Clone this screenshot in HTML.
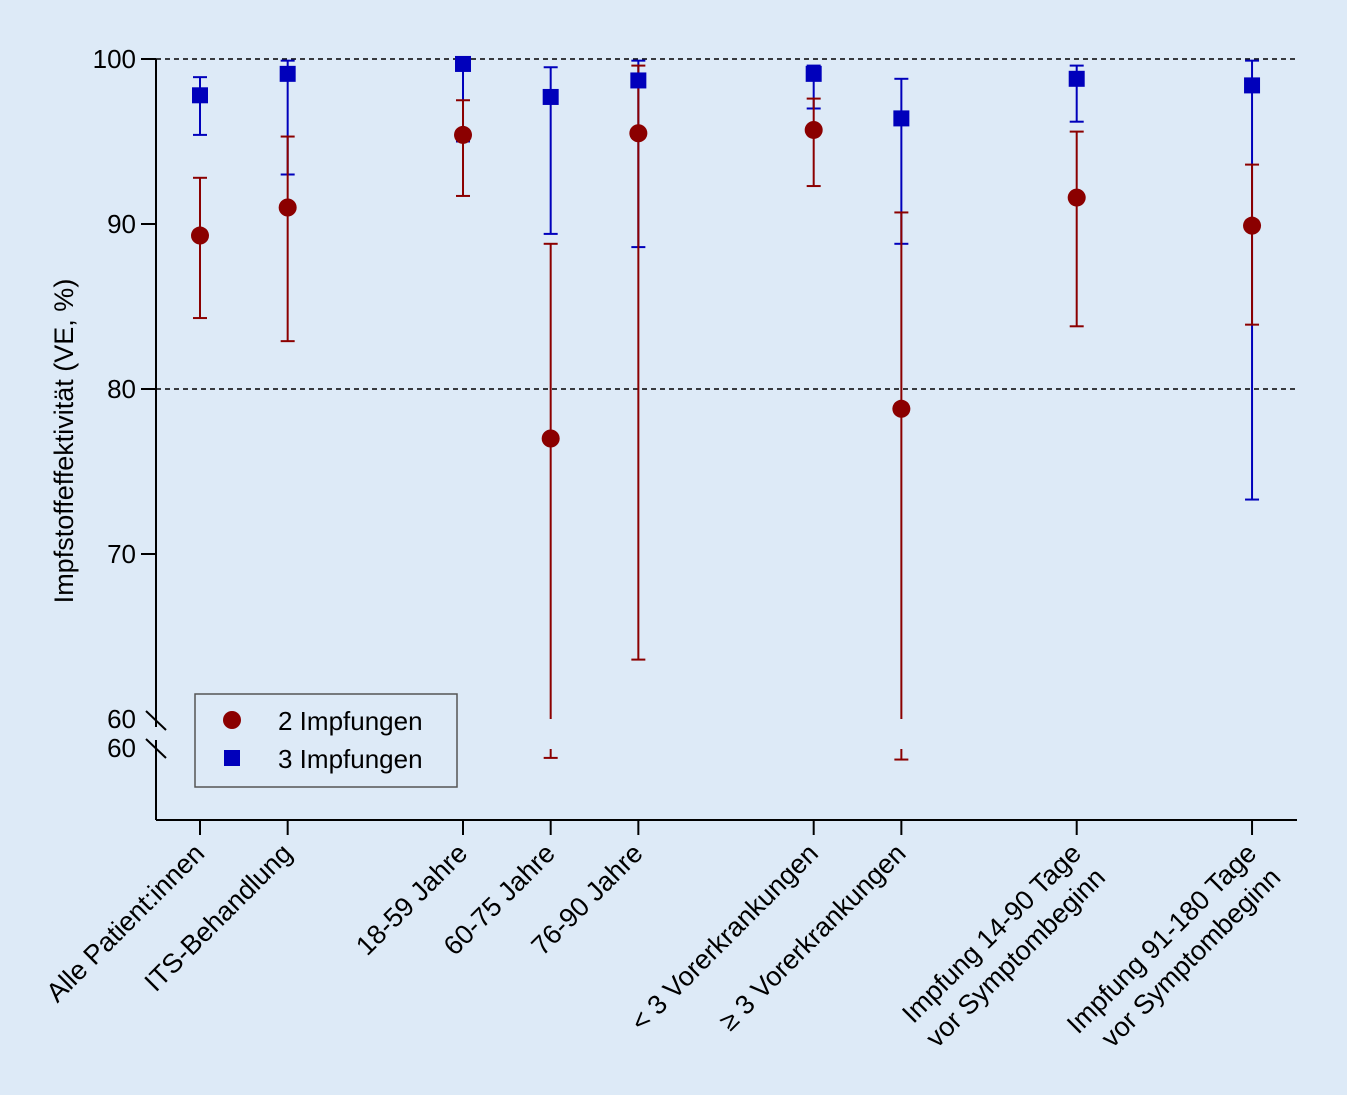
<!DOCTYPE html>
<html><head><meta charset="utf-8"><style>
html,body{margin:0;padding:0;background:#ddeaf7;}
svg{display:block;font-family:"Liberation Sans",sans-serif;}
</style></head><body>
<svg id="chart" width="1347" height="1095" xmlns="http://www.w3.org/2000/svg">
<rect width="1347" height="1095" fill="#ddeaf7"/>
<g id="grid"></g>
<g id="axes"></g>
<g id="marks"></g>
<g id="xlabels"></g>
<text transform="translate(73,441) rotate(-90)" text-anchor="middle" font-size="27" fill="#000">Impfstoffeffektivität (VE, %)</text>
<g>
<rect x="195" y="694" width="262" height="93" fill="none" stroke="#555" stroke-width="1.5"/>
<circle cx="232" cy="720" r="9" fill="#8b0000"/>
<text x="278" y="730" font-size="26">2 Impfungen</text>
<rect x="224" y="750" width="16" height="16" fill="#0000bb"/>
<text x="278" y="768" font-size="26">3 Impfungen</text>
</g>
</svg>
<script>
const categories = [["Alle Patient:innen"],["ITS-Behandlung"],["18-59 Jahre"],["60-75 Jahre"],["76-90 Jahre"],["< 3 Vorerkrankungen"],["≥ 3 Vorerkrankungen"],["Impfung 14-90 Tage","vor Symptombeginn"],["Impfung 91-180 Tage","vor Symptombeginn"]];
const slots = [0,1,3,4,5,7,8,10,12];
const ve2 = [89.3,91.0,95.4,77.0,95.5,95.7,78.8,91.6,89.9];
const lo2 = [84.3,82.9,91.7,59.4,63.6,92.3,59.3,83.8,83.9];
const hi2 = [92.8,95.3,97.5,88.8,99.6,97.6,90.7,95.6,93.6];
const ve3 = [97.8,99.1,99.7,97.7,98.7,99.1,96.4,98.8,98.4];
const lo3 = [95.4,93.0,95.0,89.4,88.6,97.0,88.8,96.2,73.3];
const hi3 = [98.9,99.9,99.9,99.5,99.9,99.6,98.8,99.6,99.9];
const yTicks = [100,90,80,70];
const dashed = [100,80];

const NS="http://www.w3.org/2000/svg";
function el(tag,attrs,parent){const e=document.createElementNS(NS,tag);for(const k in attrs)e.setAttribute(k,attrs[k]);parent.appendChild(e);return e;}
function y(v){ if(v>=60) return 59+(100-v)*16.5; return 748+(60-v)*16.5; }
function x(i){ return 200+slots[i]*87.67; }
const L=156,R=1297,B=820;
const grid=document.getElementById('grid'),axes=document.getElementById('axes'),marks=document.getElementById('marks'),xl=document.getElementById('xlabels');
dashed.forEach(v=>{const l=el('line',{x1:L,x2:R,y1:y(v),y2:y(v),stroke:'#000','stroke-width':1.5,'stroke-dasharray':'5,4'},grid);

});
let a=el('line',{x1:L,x2:L,y1:y(100),y2:727,stroke:'#000','stroke-width':2},axes);

a=el('line',{x1:L,x2:L,y1:740,y2:B,stroke:'#000','stroke-width':2},axes);

[[146,711,166,730],[146,739,166,758]].forEach(s=>{const b=el('line',{x1:s[0],y1:s[1],x2:s[2],y2:s[3],stroke:'#000','stroke-width':2},axes);
});
a=el('line',{x1:L,x2:R,y1:B,y2:B,stroke:'#000','stroke-width':2},axes);

yTicks.forEach(v=>{const t=el('line',{x1:141,x2:L,y1:y(v),y2:y(v),stroke:'#000','stroke-width':2},axes);

const tx=el('text',{x:136,y:y(v)+9,'text-anchor':'end','font-size':26},axes);tx.textContent=v;
});
[[719,'60'],[748,'60']].forEach(p=>{const tx=el('text',{x:136,y:p[0]+9,'text-anchor':'end','font-size':26},axes);tx.textContent=p[1];
});
function errbar(cx,lo,hi,col,name){
  const g=el('g',{},marks);
  if(lo>=60){el('line',{x1:cx,x2:cx,y1:y(hi),y2:y(lo),stroke:col,'stroke-width':2},g);}
  else{el('line',{x1:cx,x2:cx,y1:y(hi),y2:719,stroke:col,'stroke-width':2},g);
       el('line',{x1:cx,x2:cx,y1:749,y2:y(lo),stroke:col,'stroke-width':2},g);}
  el('line',{x1:cx-7,x2:cx+7,y1:y(hi),y2:y(hi),stroke:col,'stroke-width':2},g);
  el('line',{x1:cx-7,x2:cx+7,y1:y(lo),y2:y(lo),stroke:col,'stroke-width':2},g);
}
categories.forEach((c,i)=>{
  const cx=x(i);
  const t=el('line',{x1:cx,x2:cx,y1:B,y2:835,stroke:'#000','stroke-width':2},axes);
  
  errbar(cx,lo3[i],hi3[i],'#0000bb','error-bar-3-impfungen');
  errbar(cx,lo2[i],hi2[i],'#8b0000','error-bar-2-impfungen');
  const tx=el('text',{transform:'translate('+(cx+6)+',855) rotate(-45)','text-anchor':'end','font-size':27},xl);
  
  c.forEach((line,j)=>{const ts=el('tspan',{x:0,dy:j?'34':'0'},tx);ts.textContent=line;});
});
categories.forEach((c,i)=>{
  const cx=x(i);
  const ci=el('circle',{cx:cx,cy:y(ve2[i]),r:9,fill:'#8b0000'},marks);
  
  const sq=el('rect',{x:cx-8,y:y(ve3[i])-8,width:16,height:16,fill:'#0000bb'},marks);
  
});
</script>
</body></html>
